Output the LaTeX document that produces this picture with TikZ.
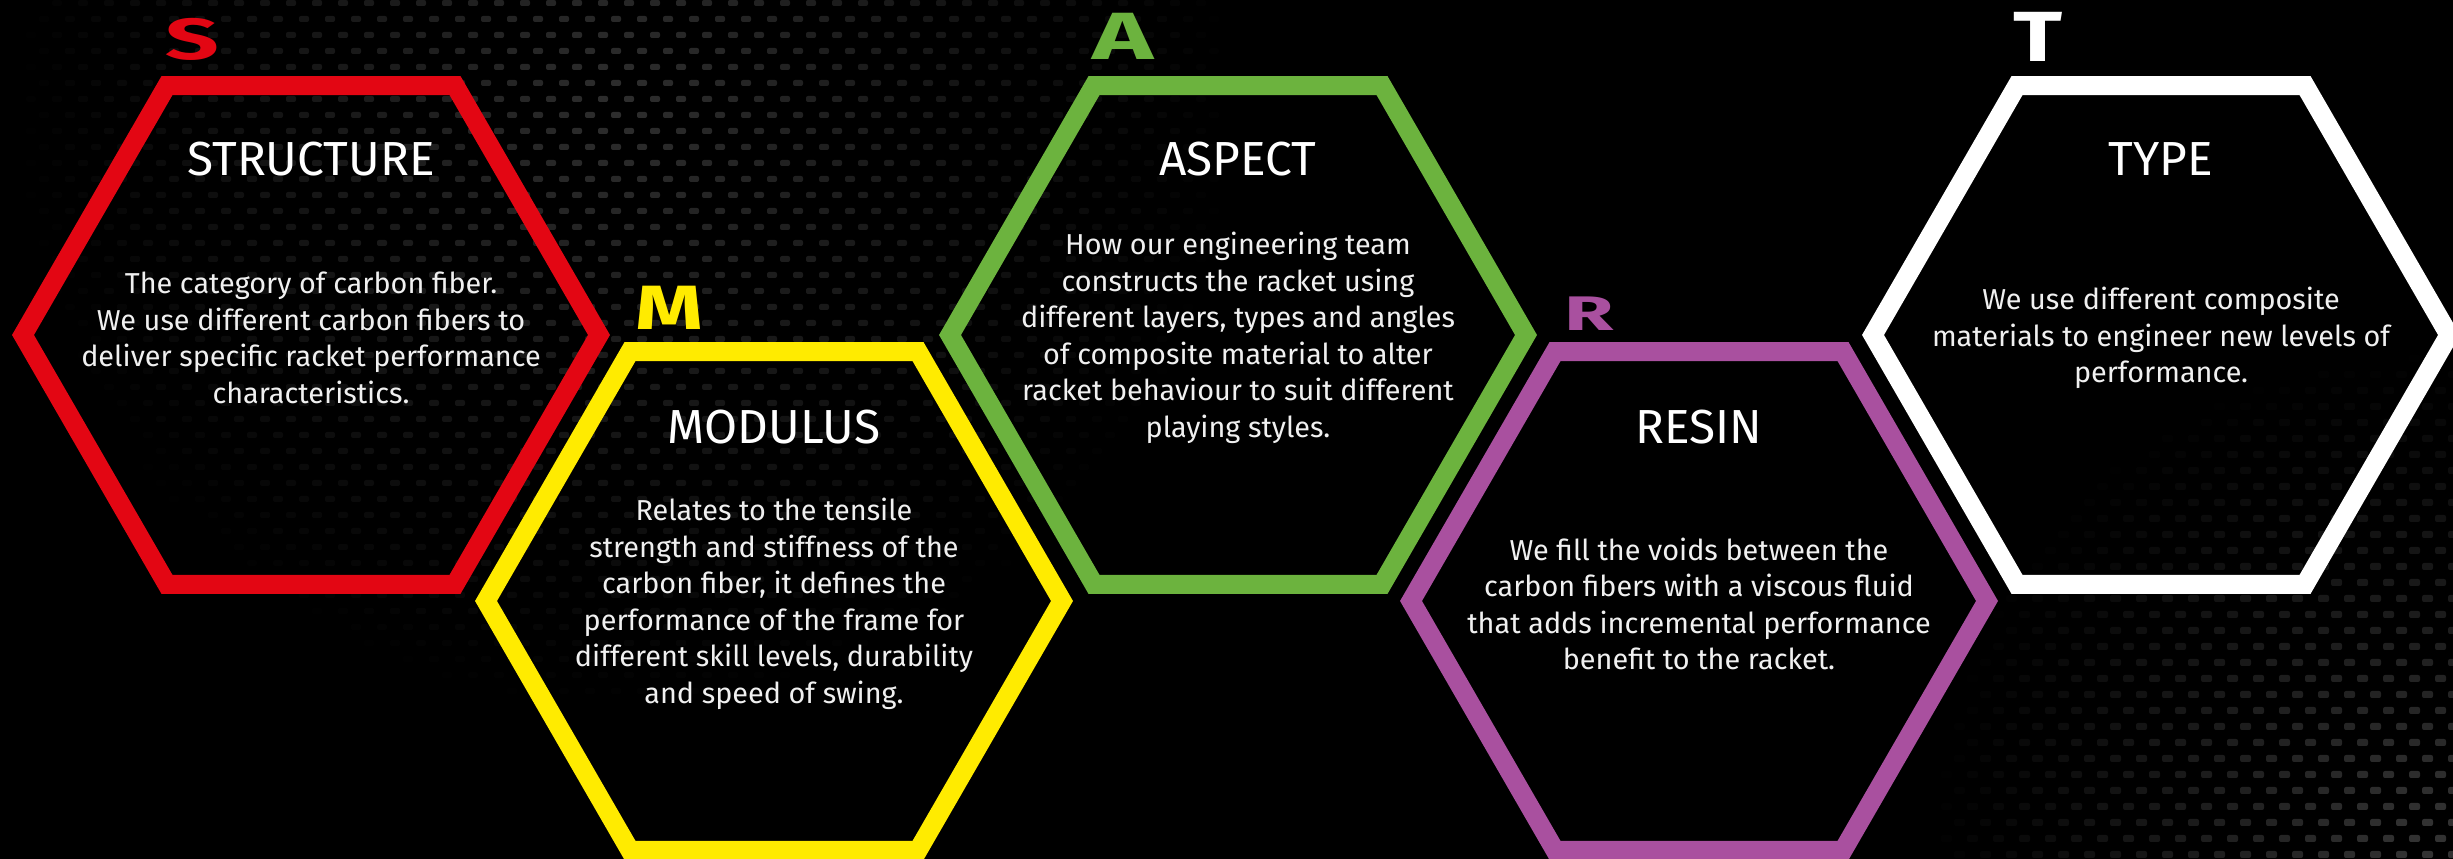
\documentclass[tikz,border=0pt]{standalone}
\usepackage{fontspec}
\setmainfont{Fira Sans}
\usetikzlibrary{calc}

\definecolor{smartred}{HTML}{E30613}
\definecolor{smartyellow}{HTML}{FFEB00}
\definecolor{smartgreen}{HTML}{6CB33E}
\definecolor{smartpurple}{HTML}{A9509F}
\definecolor{weavegrey}{HTML}{3A3A3A}

% wide capitals for the initials: #1 stretch, #2 size, #3 letter
\newcommand{\initialcap}[3]{\scalebox{#1}[1]{\fontsize{#2}{#2}\selectfont #3}}

\tikzset{
  hexline/.style={line width=1.9mm, line join=miter},
  initial/.style={text=#1, font=\bfseries, inner sep=0pt, anchor=south west},
  heading/.style={text=white, font=\fontsize{13.6}{16}\selectfont, inner sep=0pt, anchor=base},
  blurb/.style={text=white!94!black, font=\fontsize{8.2}{10.4}\selectfont, align=center, inner sep=0pt},
  weave/.style={fill=weavegrey, rounded corners=0.2mm},
}

\begin{document}
\begin{tikzpicture}[x=1mm, y=1mm]
  \useasboundingbox (0,0) rectangle (245.3,85.9);
  \fill [black] (0,0) rectangle (245.3,85.9);

  % carbon weave, top left
  \foreach \row in {0,...,47} {
    \foreach \col in {0,...,50} {
      \pgfmathsetmacro{\cx}{\col*2.6 + mod(\row,2)*1.3}
      \pgfmathsetmacro{\cy}{85.9 - \row*1.6}
      \pgfmathsetmacro{\glow}{max(0, 1 - veclen(\cx-62, \cy-76)/62)}
      \ifdim\glow pt>0.03pt
        \fill [weave, opacity=0.8*\glow] (\cx,\cy) rectangle ++(1.0,-0.6);
      \fi
    }
  }
  % carbon weave, bottom right
  \foreach \row in {0,...,32} {
    \foreach \col in {0,...,24} {
      \pgfmathsetmacro{\cx}{185 + \col*2.6 + mod(\row,2)*1.3}
      \pgfmathsetmacro{\cy}{52 - \row*1.6}
      \pgfmathsetmacro{\glow}{max(0, 1 - veclen(\cx-242, \cy-2)/50)}
      \ifdim\glow pt>0.03pt
        \fill [weave, opacity=0.9*\glow] (\cx,\cy) rectangle ++(1.1,-0.7);
      \fi
    }
  }

  % centres of the five cells
  \coordinate (Structure_c) at (31.1, 52.4);
  \coordinate (Modulus_c) at (77.4, 25.8);
  \coordinate (Aspect_c) at (123.8, 52.4);
  \coordinate (Resin_c) at (169.9, 25.8);
  \coordinate (Type_c) at (216.1, 52.4);

  \draw [hexline, smartred] (Structure_c) +(0:28.8) -- +(60:28.8) -- +(120:28.8) -- +(180:28.8) -- +(240:28.8) -- +(300:28.8) -- cycle;
  \draw [hexline, smartyellow] (Modulus_c) +(0:28.8) -- +(60:28.8) -- +(120:28.8) -- +(180:28.8) -- +(240:28.8) -- +(300:28.8) -- cycle;
  \draw [hexline, smartgreen] (Aspect_c) +(0:28.8) -- +(60:28.8) -- +(120:28.8) -- +(180:28.8) -- +(240:28.8) -- +(300:28.8) -- cycle;
  \draw [hexline, smartpurple] (Resin_c) +(0:28.8) -- +(60:28.8) -- +(120:28.8) -- +(180:28.8) -- +(240:28.8) -- +(300:28.8) -- cycle;
  \draw [hexline, white] (Type_c) +(0:28.8) -- +(60:28.8) -- +(120:28.8) -- +(180:28.8) -- +(240:28.8) -- +(300:28.8) -- cycle;

  % initials above the top left corners
  \node [initial=smartred] (S_letter) at (16.5, 79.8) {\initialcap{1.62}{16.5}{S}};
  \node [initial=smartyellow] (M_letter) at (63.5, 52.9) {\initialcap{1.38}{17.8}{M}};
  \node [initial=smartgreen] (A_letter) at (109.2, 79.9) {\initialcap{1.55}{19}{A}};
  \node [initial=smartpurple] (R_letter) at (156.4, 52.8) {\initialcap{1.65}{13.8}{R}};
  \node [initial=white] (T_letter) at (201.3, 79.7) {\initialcap{1.28}{20.2}{T}};

  % headings
  \node [heading] (Structure_title) at ($(Structure_c)+(0,15.9)$) {STRUCTURE};
  \node [heading] (Modulus_title) at ($(Modulus_c)+(0,15.7)$) {MODULUS};
  \node [heading] (Aspect_title) at ($(Aspect_c)+(0,15.9)$) {ASPECT};
  \node [heading] (Resin_title) at ($(Resin_c)+(0,15.7)$) {RESIN};
  \node [heading] (Type_title) at ($(Type_c)+(0,15.9)$) {TYPE};

  % descriptions
  \node [blurb] (Structure_text) at ($(Structure_c)+(0,-0.3)$) {The category of carbon fiber.\\ We use different carbon fibers to\\ deliver specific racket performance\\ characteristics.};
  \node [blurb] (Modulus_text) at ($(Modulus_c)+(0,-0.3)$) {Relates to the tensile\\ strength and stiffness of the\\ carbon fiber, it defines the\\ performance of the frame for\\ different skill levels, durability\\ and speed of swing.};
  \node [blurb] (Aspect_text) at ($(Aspect_c)+(0,-0.3)$) {How our engineering team\\ constructs the racket using\\ different layers, types and angles\\ of composite material to alter\\ racket behaviour to suit different\\ playing styles.};
  \node [blurb] (Resin_text) at ($(Resin_c)+(0,-0.3)$) {We fill the voids between the\\ carbon fibers with a viscous fluid\\ that adds incremental performance\\ benefit to the racket.};
  \node [blurb] (Type_text) at ($(Type_c)+(0,-0.3)$) {We use different composite\\ materials to engineer new levels of\\ performance.};
\end{tikzpicture}
\end{document}
